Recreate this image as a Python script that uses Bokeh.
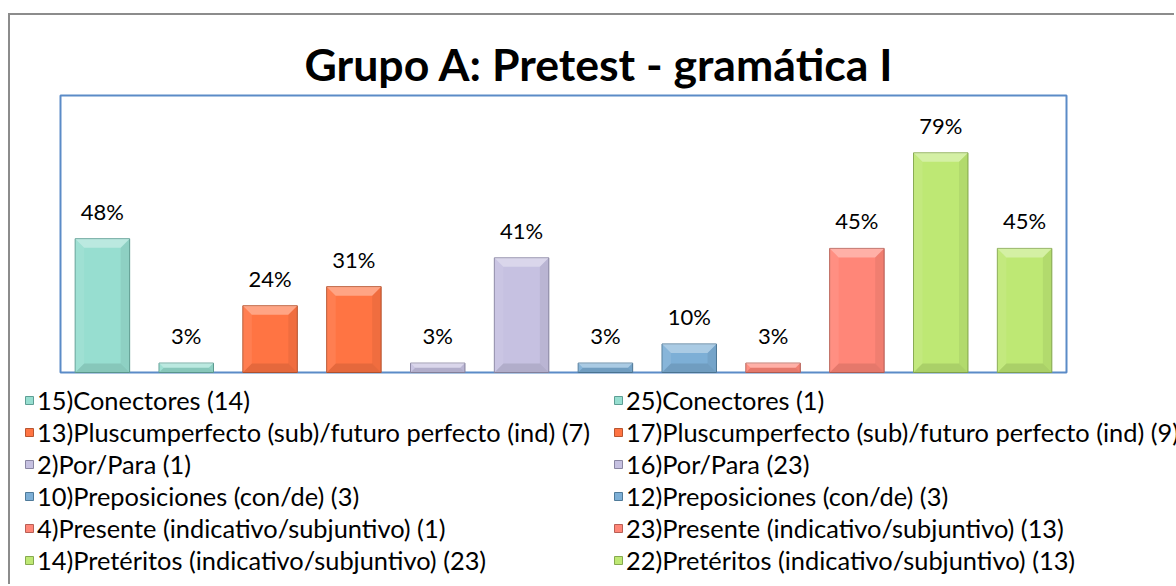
from bokeh.plotting import figure
from bokeh.models import Range1d, ColumnDataSource, LabelSet, Legend, LegendItem
from bokeh.core.properties import value
from bokeh.embed import file_html
from bokeh.resources import INLINE

# ---- data ----
labels = [
    "15)Conectores (14)",
    "25)Conectores (1)",
    "13)Pluscumperfecto (sub)/futuro perfecto (ind) (7)",
    "17)Pluscumperfecto (sub)/futuro perfecto (ind) (9)",
    "2)Por/Para (1)",
    "16)Por/Para (23)",
    "10)Preposiciones (con/de) (3)",
    "12)Preposiciones (con/de) (3)",
    "4)Presente (indicativo/subjuntivo) (1)",
    "23)Presente (indicativo/subjuntivo) (13)",
    "14)Pretéritos (indicativo/subjuntivo) (23)",
    "22)Pretéritos (indicativo/subjuntivo) (13)",
]
values = [0.483, 0.034, 0.241, 0.310, 0.034, 0.414, 0.034, 0.103, 0.034, 0.448, 0.793, 0.448]
fill_colors = ["#97DED0", "#97DED0", "#FF7443", "#FF7443", "#C6C1E1", "#C6C1E1",
               "#7DAFD6", "#7DAFD6", "#FF8678", "#FF8678", "#BEE874", "#BEE874"]
line_colors = ["#5E9E94", "#5E9E94", "#B85530", "#B85530", "#8A86A3", "#8A86A3",
               "#4F7A99", "#4F7A99", "#B85F55", "#B85F55", "#86A94F", "#86A94F"]
title_text = "Grupo A: Pretest - gramática I"

# ---- layout (pixels) ----
W, H = 1166, 571          # canvas size
n = len(values)
PA_L, PA_R = 50, 1056     # plot-area left/right in canvas px
PA_T, PA_B = 80, 357      # plot-area top/bottom in canvas px
MT = 78                   # room for the title
bar_w = 0.65

px_x = (PA_R - PA_L) / n
px_y = (PA_B - PA_T) / 1.0
x_lo = 0.5 - PA_L / px_x
x_hi = n + 0.5 + (W - PA_R) / px_x
y_lo = -(H - PA_B) / px_y
y_hi = 1.0 + (PA_T - MT) / px_y

xs = list(range(1, n + 1))
pct = [f"{round(v * 100)}%" for v in values]
src = ColumnDataSource(dict(x=xs, top=values, fill=fill_colors, line=line_colors, pct=pct))

p = figure(width=W, height=H, x_range=Range1d(x_lo, x_hi), y_range=Range1d(y_lo, y_hi),
           output_backend="svg", toolbar_location=None,
           x_axis_location=None, y_axis_location=None,
           min_border_left=0, min_border_right=0, min_border_top=MT, min_border_bottom=0)
p.styles = {"border-left": "2px solid #8c8c8c", "border-top": "2px solid #8c8c8c",
            "margin-left": "8px", "margin-top": "13px"}
p.grid.visible = False
p.outline_line_color = None
p.background_fill_color = "white"
p.border_fill_color = "white"

# plot-area border
p.quad(left=0.5, right=n + 0.5, bottom=0, top=1.0, fill_color=None,
       line_color="#5B8BC7", line_width=2)

bars = p.vbar(x="x", top="top", bottom=0, width=bar_w, source=src,
              fill_color="fill", line_color="line", line_width=1)

# bevel effect derived from the data
bev = 9
top_xs, top_ys, bot_xs, bot_ys, rs_xs, rs_ys, ls_xs, ls_ys = [], [], [], [], [], [], [], []
for x, v in zip(xs, values):
    hp = v * px_y
    d = min(bev, hp / 2)
    bx = d / px_x
    by = d / px_y
    l, r = x - bar_w / 2, x + bar_w / 2
    top_xs.append([l, r, r - bx, l + bx]); top_ys.append([v, v, v - by, v - by])
    bot_xs.append([l, r, r - bx, l + bx]); bot_ys.append([0, 0, by, by])
    rs_xs.append([r, r, r - bx, r - bx]); rs_ys.append([0, v, v - by, by])
    ls_xs.append([l, l, l + bx, l + bx]); ls_ys.append([0, v, v - by, by])
p.patches(top_xs, top_ys, fill_color="white", fill_alpha=0.35, line_color=None)
p.patches(bot_xs, bot_ys, fill_color="black", fill_alpha=0.10, line_color=None)
p.patches(rs_xs, rs_ys, fill_color="black", fill_alpha=0.06, line_color=None)
p.patches(ls_xs, ls_ys, fill_color="white", fill_alpha=0.08, line_color=None)

lbl = LabelSet(x="x", y="top", text="pct", source=src, text_align="center",
               text_baseline="alphabetic", y_offset=19, text_font=value("Lato"),
               text_font_size=value("22px"), text_color="black")
p.add_layout(lbl)

# title
p.title.text = title_text
p.title.text_font = "Lato"
p.title.text_font_style = "bold"
p.title.text_font_size = "44.6px"
p.title.text_color = "black"
p.title.align = "left"
p.title.offset = 294
p.title.standoff = 8

# legends (two columns)
def make_legend(idxs, x):
    items = [LegendItem(label=labels[i], renderers=[bars], index=i) for i in idxs]
    return Legend(items=items, location=(x, 11), orientation="vertical",
                  label_text_font="Lato", label_text_font_size="25.4px",
                  label_text_color="black", glyph_width=10, glyph_height=10,
                  label_standoff=3, spacing=2, padding=0, margin=0,
                  border_line_color=None, background_fill_alpha=0)

p.add_layout(make_legend(range(0, n, 2), 14), "center")
p.add_layout(make_legend(range(1, n, 2), 603), "center")

open("out.html", "w").write(file_html(p, INLINE))
